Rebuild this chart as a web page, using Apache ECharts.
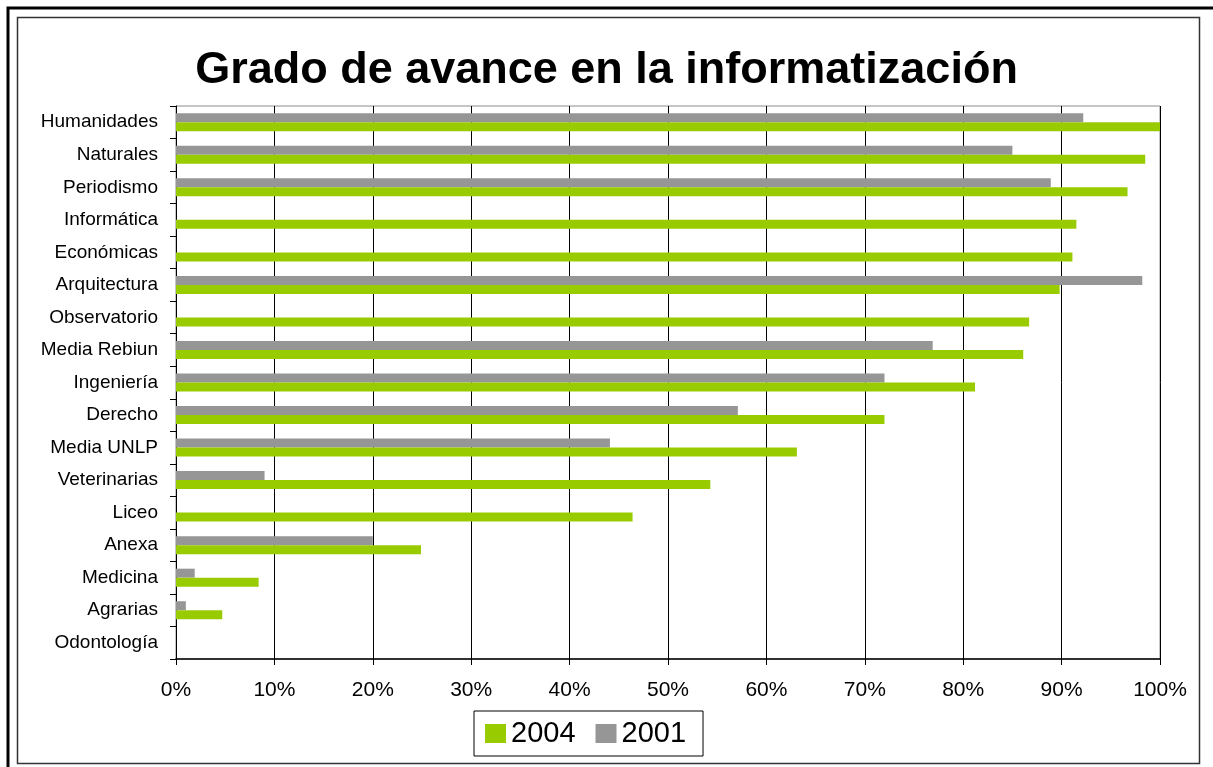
<!DOCTYPE html>
<html>
<head>
<meta charset="utf-8">
<title>Grado de avance en la informatización</title>
<script src="https://cdn.jsdelivr.net/npm/echarts@6/dist/echarts.min.js"></script>
<style>
    html, body { margin: 0; padding: 0; background: #fff; }
    #main { width: 1213px; height: 767px; }
</style>
</head>
<body>
<div id="main"></div>
<script>
// categorias de arriba hacia abajo
const facultades = ['Humanidades', 'Naturales', 'Periodismo', 'Informática', 'Económicas',
    'Arquitectura', 'Observatorio', 'Media Rebiun', 'Ingeniería', 'Derecho', 'Media UNLP',
    'Veterinarias', 'Liceo', 'Anexa', 'Medicina', 'Agrarias', 'Odontología'];
const avance2004 = [100, 98.5, 96.7, 91.5, 91.1, 89.8, 86.7, 86.1, 81.2, 72.0, 63.1,
    54.3, 46.4, 24.9, 8.4, 4.7, 0];
const avance2001 = [92.2, 85.0, 88.9, 0, 0, 98.2, 0, 76.9, 72.0, 57.1, 44.1,
    9.0, 0, 20.0, 1.9, 1.0, 0];
const xTicks = [0, 10, 20, 30, 40, 50, 60, 70, 80, 90, 100];

const fuente = '"Liberation Sans", Arial, sans-serif';

function dibujar() {
    let myChart = echarts.init(document.getElementById('main'));
    let option = {
        backgroundColor: '#fff',
        animation: false,
        title: {
            text: 'Grado de avance en la informatización',
            left: 'center',
            top: 43,
            textStyle: {
                fontFamily: fuente,
                fontSize: 45,
                fontWeight: 'bold',
                color: '#000'
            }
        },
        legend: {
            data: ['2004', '2001'],
            left: 474,
            top: 711,
            padding: [8, 17, 8, 11],
            borderColor: '#000',
            borderWidth: 1,
            itemWidth: 21,
            itemHeight: 19,
            itemGap: 20,
            icon: 'rect',
            textStyle: {
                fontFamily: fuente,
                fontSize: 29,
                color: '#000'
            }
        },
        grid: {
            left: 176,
            right: 53,
            top: 106,
            bottom: 108,
            show: true,
            borderColor: '#8c8c8c',
            borderWidth: 1,
            backgroundColor: '#fff'
        },
        xAxis: {
            type: 'value',
            min: xTicks[0],
            max: xTicks[xTicks.length - 1],
            interval: 10,
            axisLine: { show: true, lineStyle: { color: '#000', width: 1.5 } },
            axisTick: { show: true, length: 6, lineStyle: { color: '#000' } },
            splitLine: { show: true, lineStyle: { color: '#000', width: 1 } },
            axisLabel: {
                margin: 21,
                fontFamily: fuente,
                fontSize: 21,
                color: '#000',
                formatter: v => v + '%'
            }
        },
        yAxis: {
            type: 'category',
            inverse: true,
            data: facultades,
            axisLine: { show: true, lineStyle: { color: '#000', width: 1 } },
            axisTick: { show: true, length: 6, lineStyle: { color: '#000' } },
            axisLabel: {
                margin: 18,
                fontFamily: fuente,
                fontSize: 19,
                color: '#000'
            }
        },
        series: [
            {
                name: '2001',
                type: 'bar',
                data: avance2001,
                barWidth: 9,
                barGap: '0%',
                itemStyle: { color: '#969696' }
            },
            {
                name: '2004',
                type: 'bar',
                data: avance2004,
                barWidth: 9,
                barGap: '0%',
                itemStyle: { color: '#99cc00' }
            }
        ],
        graphic: [
            // marco exterior
            {
                type: 'polyline',
                silent: true,
                shape: { points: [[8, 767], [8, 8], [1213, 8]] },
                style: { stroke: '#000', lineWidth: 3, fill: null }
            },
            // marco interior
            {
                type: 'rect',
                silent: true,
                shape: { x: 17.5, y: 17.5, width: 1182, height: 746 },
                style: { stroke: '#333', lineWidth: 1.5, fill: null }
            }
        ]
    };
    myChart.setOption(option);
}

dibujar();
</script>
</body>
</html>
